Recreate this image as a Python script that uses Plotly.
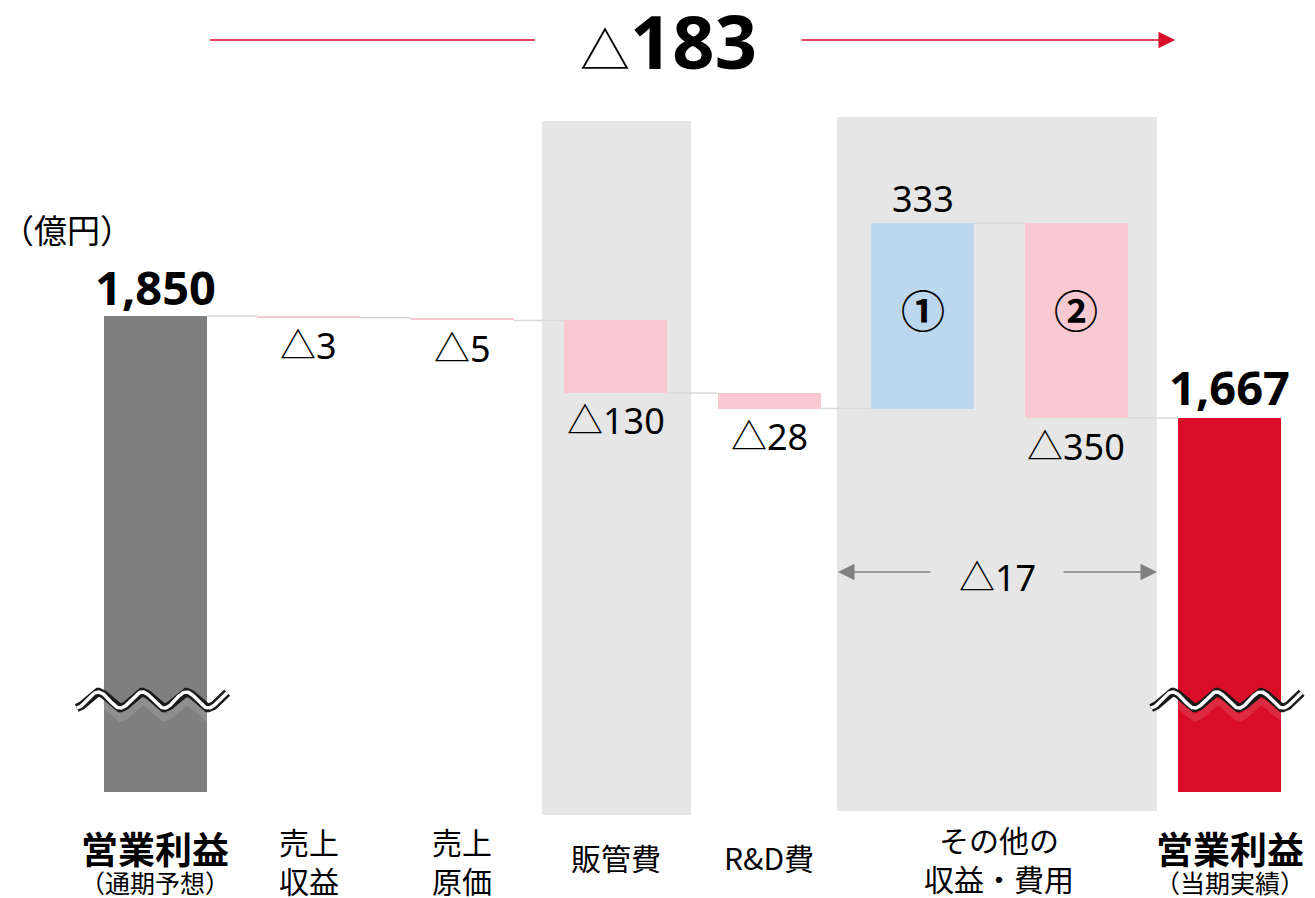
import numpy as np
import plotly.graph_objects as go

# ---------------- data ----------------
categories = ["営業利益<br>（通期予想）", "売上収益", "売上原価", "販管費", "R&D費",
              "その他の収益", "その他の費用", "営業利益<br>（当期実績）"]
start_value = 1850
deltas = [-3, -5, -130, -28, 333, -350]
end_value = 1667
delta_labels = ["△3", "△5", "△130", "△28", "333", "△350"]
total_change_label = "183"
other_net_label = "△17"
bottom_labels = ["売上<br>収益", "売上<br>原価", "販管費", "R&D費", "その他の<br>収益・費用"]

# ---------------- geometry helpers ----------------
W, H = 1315, 898
PX_X = 153.5            # px per category
X0 = -155 / PX_X        # x value at left edge
X1 = X0 + W / PX_X
PX_Y = 102 / 183        # px per 億円
Y_TOP = 1850 + 316 / PX_Y
Y_BOT = Y_TOP - H / PX_Y
BREAK_BASE = Y_TOP - 792 / PX_Y   # bottom of truncated total bars
BAR_W = 0.671

def vy(px):  # pixel row -> value
    return Y_TOP - px / PX_Y

def py(px):  # pixel row -> paper
    return 1 - px / H

def px_(p):  # pixel col -> paper
    return p / W

GRAY = "#7f7f7f"
PINK = "#f9c9d2"
BLUE = "#bdd7ee"
RED = "#d90d27"
PANEL = "#e6e6e6"
NUM_FONT = "Noto Sans, Noto Sans CJK JP"
JP_FONT = "Noto Sans CJK JP"

xs = np.arange(len(categories))
levels = np.concatenate([[start_value], start_value + np.cumsum(deltas)])
bases = [BREAK_BASE] + [min(levels[i], levels[i + 1]) for i in range(len(deltas))] + [BREAK_BASE]
tops = [start_value] + [max(levels[i], levels[i + 1]) for i in range(len(deltas))] + [end_value]
heights = [t - b for t, b in zip(tops, bases)]
colors = [GRAY] + [BLUE if d > 0 else PINK for d in deltas] + [RED]

fig = go.Figure()

# background panels
fig.add_shape(type="rect", x0=X0 + 542 / PX_X, x1=X0 + 691 / PX_X, y0=vy(815), y1=vy(121),
              fillcolor=PANEL, line_width=0, layer="below")
fig.add_shape(type="rect", x0=X0 + 837 / PX_X, x1=X0 + 1157 / PX_X, y0=vy(811), y1=vy(117),
              fillcolor=PANEL, line_width=0, layer="below")

fig.add_trace(go.Bar(x=xs, y=heights, base=bases, width=BAR_W,
                     marker=dict(color=colors, line_width=0), hoverinfo="skip"))

# connectors
cx, cy = [], []
for i in range(len(categories) - 1):
    lv = levels[i] if i < len(levels) else end_value
    cx += [xs[i] + BAR_W / 2, xs[i + 1] - BAR_W / 2, None]
    cy += [lv, lv, None]
fig.add_trace(go.Scatter(x=cx, y=cy, mode="lines", line=dict(color="#d9d9d9", width=1.5),
                         hoverinfo="skip"))

# break marks (wavy)
for xc in [0, 7]:
    t = np.linspace(xc - 0.51, xc + 0.47, 200)
    per = 44 / PX_X
    amp = 8 / PX_Y
    phase_x = xc - 0.37
    wy = vy(700) + amp * np.cos(2 * np.pi * (t - phase_x) / per)
    fig.add_trace(go.Scatter(x=t, y=wy - 10 / PX_Y, mode="lines",
                             line=dict(color="rgba(255,255,255,0.12)", width=7), hoverinfo="skip"))
    fig.add_trace(go.Scatter(x=t, y=wy, mode="lines",
                             line=dict(color="#1a1a1a", width=8.5), hoverinfo="skip"))
    fig.add_trace(go.Scatter(x=t, y=wy, mode="lines",
                             line=dict(color="white", width=3.5), hoverinfo="skip"))

ann = []
# total labels
ann.append(dict(x=xs[0], y=start_value, text="<b>1,850</b>", yshift=29, showarrow=False,
                font=dict(family=NUM_FONT, size=47, color="black"), yanchor="middle"))
ann.append(dict(x=xs[-1], y=end_value, text="<b>1,667</b>", yshift=31, showarrow=False,
                font=dict(family=NUM_FONT, size=47, color="black"), yanchor="middle"))
# delta labels
for i, d in enumerate(deltas):
    x = xs[i + 1]
    if d > 0:
        ann.append(dict(x=x, y=tops[i + 1], text=delta_labels[i], yshift=24, showarrow=False,
                        font=dict(family=NUM_FONT, size=36, color="black"), yanchor="middle"))
    else:
        ann.append(dict(x=x, y=bases[i + 1], text=delta_labels[i], yshift=-28, showarrow=False,
                        font=dict(family=NUM_FONT, size=36, color="black"), yanchor="middle"))
# circled numbers
mid5 = (bases[5] + tops[5]) / 2
for x, s in [(xs[5], "①"), (xs[6], "②")]:
    ann.append(dict(x=x, y=mid5, text="<b>" + s + "</b>", showarrow=False, yshift=7,
                    font=dict(family=JP_FONT, size=44, color="black"), yanchor="middle"))

# unit
ann.append(dict(xref="paper", yref="paper", x=px_(-1), y=py(229), text="（億円）", showarrow=False,
                xanchor="left", yanchor="middle", font=dict(family=JP_FONT, size=33, color="black")))

# top title
ann.append(dict(xref="paper", yref="paper", x=px_(605), y=py(47), text="△", showarrow=False,
                xanchor="center", yanchor="middle", font=dict(family=JP_FONT, size=50, color="black")))
ann.append(dict(xref="paper", yref="paper", x=px_(693), y=py(41), text="<b>" + total_change_label + "</b>",
                showarrow=False, xanchor="center", yanchor="middle",
                font=dict(family=NUM_FONT, size=74, color="black")))
# red arrow lines
fig.add_shape(type="line", xref="paper", yref="paper", x0=px_(210), x1=px_(535), y0=py(40), y1=py(40),
              line=dict(color=RED, width=1.5))
ann.append(dict(xref="paper", yref="paper", x=px_(1175), y=py(40), ax=800 - 1175, ay=0,
                axref="pixel", ayref="pixel", text="", showarrow=True, arrowhead=2,
                arrowsize=2.2, arrowwidth=1.5, arrowcolor=RED))

# △17 with gray arrows
ann.append(dict(xref="paper", yref="paper", x=px_(997), y=py(577), text=other_net_label, showarrow=False,
                xanchor="center", font=dict(family=NUM_FONT, size=36, color="black"), yanchor="middle"))
ann.append(dict(xref="paper", yref="paper", x=px_(838), y=py(572), ax=932 - 838, ay=0,
                axref="pixel", ayref="pixel", text="", showarrow=True, arrowhead=2,
                arrowsize=2.2, arrowwidth=1.5, arrowcolor="#808080"))
ann.append(dict(xref="paper", yref="paper", x=px_(1157), y=py(572), ax=1062 - 1157, ay=0,
                axref="pixel", ayref="pixel", text="", showarrow=True, arrowhead=2,
                arrowsize=2.2, arrowwidth=1.5, arrowcolor="#808080"))

# bottom category labels
ann.append(dict(x=xs[0], xref="x", yref="paper", y=py(848), text="<b>営業利益</b>", showarrow=False,
                yanchor="middle", font=dict(family=JP_FONT, size=37, color="black")))
ann.append(dict(x=xs[0], xref="x", yref="paper", y=py(882), text="（通期予想）", showarrow=False,
                yanchor="middle", font=dict(family=JP_FONT, size=25, color="black")))
ann.append(dict(x=xs[-1], xref="x", yref="paper", y=py(848), text="<b>営業利益</b>", showarrow=False,
                yanchor="middle", font=dict(family=JP_FONT, size=37, color="black")))
ann.append(dict(x=xs[-1], xref="x", yref="paper", y=py(882), text="（当期実績）", showarrow=False,
                yanchor="middle", font=dict(family=JP_FONT, size=25, color="black")))
mid_positions = [xs[1], xs[2], xs[3], xs[4], (xs[5] + xs[6]) / 2]
mid_ys = [860, 860, 857, 857, 858]
for x, lab, yy in zip(mid_positions, bottom_labels, mid_ys):
    ann.append(dict(x=x, xref="x", yref="paper", y=py(yy), text=lab, showarrow=False,
                    yanchor="middle", font=dict(family=JP_FONT, size=30, color="black")))

fig.update_layout(
    width=W, height=H, margin=dict(l=0, r=0, t=0, b=0),
    paper_bgcolor="white", plot_bgcolor="white", showlegend=False,
    xaxis=dict(range=[X0, X1], visible=False, fixedrange=True),
    yaxis=dict(range=[Y_BOT, Y_TOP], visible=False, fixedrange=True),
    annotations=ann, bargap=0,
)

fig.write_html("out.html", config={"displayModeBar": False},
               post_script="document.body.style.margin='0';document.body.style.overflow='hidden';")
